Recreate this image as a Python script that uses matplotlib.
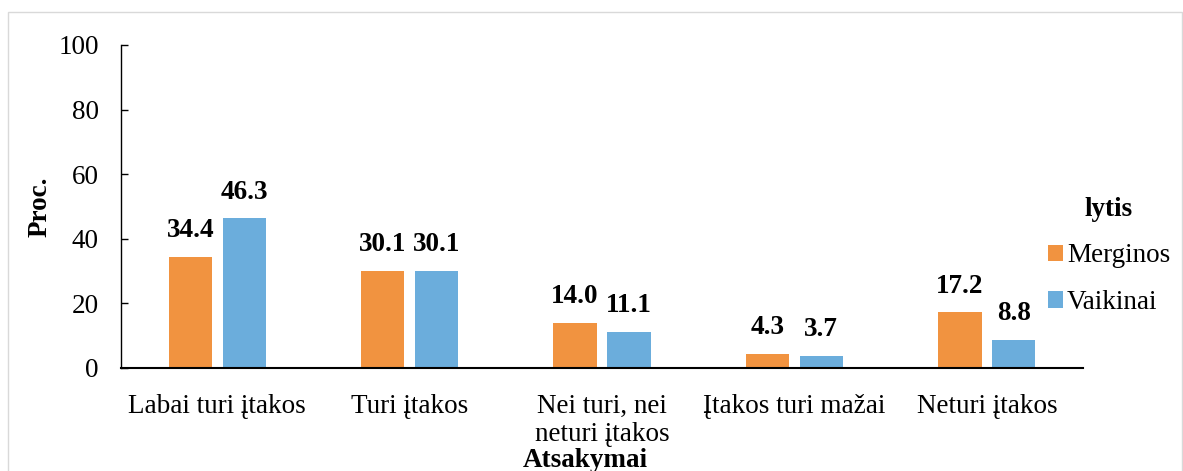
import numpy as np
from matplotlib import pyplot as plt
from matplotlib.patches import Rectangle

categories = ['Labai turi įtakos', 'Turi įtakos', 'Nei turi, nei\nneturi įtakos',
              'Įtakos turi mažai', 'Neturi įtakos']
merginos = [34.4, 30.1, 14.0, 4.3, 17.2]
vaikinai = [46.3, 30.1, 11.1, 3.7, 8.8]
series_names = ['Merginos', 'Vaikinai']
colors = ['#F19340', '#6BADDC']
yticks = [0, 20, 40, 60, 80, 100]

FS = 19.5


def main():
    plt.rcParams['font.family'] = ['Liberation Serif', 'DejaVu Serif']
    fig = plt.figure(figsize=(11.83, 4.71), dpi=100)
    ax = fig.add_axes([0.1023, 0.2187, 0.8132, 0.6858])

    x = np.arange(len(categories))
    w = 0.225
    off = 0.14
    for vals, name, col, sh in zip([merginos, vaikinai], series_names, colors, [-off, off]):
        bars = ax.bar(x + sh, vals, width=w, color=col, label=name)
        for b, v in zip(bars, vals):
            ax.annotate(f'{v:.1f}', (b.get_x() + b.get_width() / 2, v),
                        xytext=(0, 10), textcoords='offset points',
                        ha='center', va='bottom', fontsize=FS, fontweight='bold')

    ax.set_xlim(-0.5, len(categories) - 0.5)
    ax.set_ylim(0, 100)
    ax.set_yticks(yticks)
    ax.set_xticks(x)
    ax.set_xticklabels(categories, fontsize=FS, linespacing=1.12)
    ax.tick_params(axis='x', length=0, pad=19)
    ax.tick_params(axis='y', direction='in', length=5, width=1, labelsize=FS, pad=16)
    for s in ['top', 'right']:
        ax.spines[s].set_visible(False)
    ax.spines['left'].set_linewidth(1)
    ax.spines['bottom'].set_linewidth(1.5)

    ax.set_ylabel('Proc.', fontsize=FS, fontweight='bold', labelpad=4)
    ax.set_xlabel('Atsakymai', fontsize=FS, fontweight='bold')
    ax.xaxis.set_label_coords(0.483, -0.247)

    leg = ax.legend(title='lytis', loc='center', bbox_to_anchor=(1109 / 1183, 1 - 256 / 471),
                    bbox_transform=fig.transFigure,
                    frameon=False, fontsize=FS, handlelength=0.55, handleheight=0.55,
                    handletextpad=0.15, labelspacing=0.8, borderpad=0)
    leg.get_title().set_fontweight('bold')
    leg.get_title().set_fontsize(FS)

    fig.patches.append(Rectangle((8 / 1183, -0.1), 1174 / 1183, 1.1 - 12 / 471,
                                 transform=fig.transFigure, fill=False,
                                 edgecolor='#D9D9D9', linewidth=1))
    fig.savefig('out.png', dpi=100)


if __name__ == "__main__":
    main()
